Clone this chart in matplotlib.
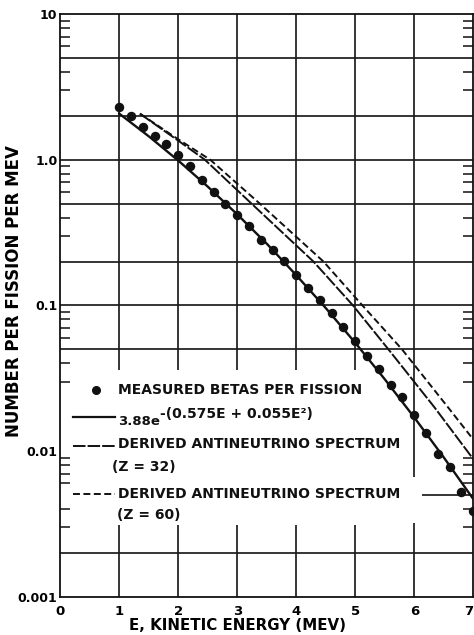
import matplotlib
matplotlib.use('Agg')
import matplotlib.pyplot as plt
from matplotlib.ticker import LogLocator, NullFormatter

# measured betas per fission
beta_e = [1.0, 1.2, 1.4, 1.6, 1.8, 2.0, 2.2, 2.4, 2.6, 2.8, 3.0, 3.2, 3.4, 3.6,
          3.8, 4.0, 4.2, 4.4, 4.6, 4.8, 5.0, 5.2, 5.4, 5.6, 5.8, 6.0, 6.2, 6.4,
          6.6, 6.8, 7.0]
beta_n = [2.31, 2.0, 1.69, 1.45, 1.28, 1.07, 0.90, 0.72, 0.60, 0.50, 0.417,
          0.349, 0.283, 0.240, 0.202, 0.161, 0.132, 0.109, 0.0887, 0.0708,
          0.0565, 0.0447, 0.0366, 0.0286, 0.0236, 0.0178, 0.0134, 0.0096,
          0.0078, 0.00525, 0.0039]

# solid fit curve
fit_e = [1.0, 1.5, 2.0, 2.5, 3.0, 3.5, 4.0, 4.5, 5.0, 5.5, 6.0, 6.5, 7.0]
fit_n = [2.07, 1.447, 0.986, 0.653, 0.421, 0.265, 0.161, 0.0958, 0.0553,
         0.0311, 0.0170, 0.00904, 0.00468]

# derived antineutrino spectra
z32_e = [1.35, 2.0, 2.45, 3.24, 4.29, 4.96, 5.56, 6.34, 7.0]
z32_n = [2.07, 1.35, 1.0, 0.5, 0.2, 0.1, 0.05, 0.02, 0.0088]
z60_e = [1.35, 2.0, 2.54, 3.38, 4.46, 5.12, 5.79, 6.57, 7.0]
z60_n = [2.07, 1.38, 1.0, 0.5, 0.2, 0.1, 0.05, 0.02, 0.012]

x_ticks = [0, 1, 2, 3, 4, 5, 6, 7]
y_ticks = [0.001, 0.01, 0.1, 1, 10]
y_tick_labels = ['0.001', '0.01', '0.1', '1.0', '10']

LONG_DASH = (0, (9, 1.5))
SHORT_DASH = (0, (5, 2.5))
INK = '#111111'


def draw_grid(ax):
    gc = '#1c1c1c'
    lw = 1.25
    ax.hlines([5, 2, 1, 0.5, 0.2, 0.1, 0.05, 0.002], 0, 7, color=gc, lw=lw, zorder=1)
    ax.hlines([0.005], 6.13, 7, color=gc, lw=lw, zorder=1)
    # legend area is left clear of grid lines
    ax.vlines([1, 2, 3, 4, 5], 0.036, 10, color=gc, lw=lw, zorder=1)
    ax.vlines([1, 2, 3, 4, 5], 0.001, 0.0031, color=gc, lw=lw, zorder=1)
    ax.vlines([6], 0.0066, 10, color=gc, lw=lw, zorder=1)
    ax.vlines([6], 0.001, 0.0032, color=gc, lw=lw, zorder=1)


def draw_key(ax):
    fs = 10
    kw = dict(transform=ax.transAxes, fontsize=fs, fontweight='bold',
              va='center', ha='left', color=INK)
    tx = 0.14
    ax.plot([0.086], [0.355], 'o', color=INK, ms=5.5, transform=ax.transAxes)
    ax.text(tx, 0.355, 'MEASURED BETAS PER FISSION', **kw)

    ax.plot([0.03, 0.132], [0.308, 0.308], color=INK, lw=1.6, transform=ax.transAxes)
    base = ax.text(tx, 0.300, '3.88e', **dict(kw, fontsize=fs - 0.5))
    ax.annotate('-(0.575E + 0.055E\u00b2)', xy=(1, 0.55), xycoords=base,
                xytext=(0, 0), textcoords='offset points', fontsize=fs,
                fontweight='bold', va='bottom', ha='left', color=INK)

    ax.plot([0.03, 0.132], [0.258, 0.258], color=INK, lw=1.4,
            linestyle=LONG_DASH, transform=ax.transAxes)
    ax.text(tx, 0.262, 'DERIVED ANTINEUTRINO SPECTRUM', **kw)
    ax.text(0.124, 0.223, '(Z = 32)', **kw)

    ax.plot([0.03, 0.132], [0.176, 0.176], color=INK, lw=1.4,
            linestyle=SHORT_DASH, transform=ax.transAxes)
    ax.text(tx, 0.176, 'DERIVED ANTINEUTRINO SPECTRUM', **kw)
    ax.text(0.137, 0.140, '(Z = 60)', **kw)


if __name__ == '__main__':
    plt.rcParams['lines.scale_dashes'] = False
    fig = plt.figure(figsize=(4.74, 6.35), dpi=100)
    ax = fig.add_axes([0.1272, 0.0603, 0.8713, 0.9176])
    ax.set_yscale('log')
    ax.set_xlim(0, 7)
    ax.set_ylim(0.001, 10)

    draw_grid(ax)

    ax.plot(fit_e, fit_n, color=INK, lw=1.7, zorder=3)
    ax.plot(z32_e, z32_n, color=INK, lw=1.4, linestyle=LONG_DASH, zorder=3)
    ax.plot(z60_e, z60_n, color=INK, lw=1.4, linestyle=SHORT_DASH, zorder=3)
    ax.plot(beta_e, beta_n, 'o', color=INK, ms=5.8, zorder=4)

    draw_key(ax)

    ax.set_xticks(x_ticks)
    labels = ax.set_xticklabels([str(v) for v in x_ticks], fontsize=9.5, fontweight='bold')
    labels[-1].set_ha('right')
    ax.set_yticks(y_ticks)
    ax.set_yticklabels(y_tick_labels, fontsize=9, fontweight='bold')
    ax.yaxis.set_minor_locator(LogLocator(base=10, subs=[3, 4, 6, 7, 8, 9]))
    ax.yaxis.set_minor_formatter(NullFormatter())
    ax.tick_params(axis='x', length=0, pad=6)
    ax.tick_params(axis='y', which='major', length=0, pad=2)
    ax.tick_params(axis='y', which='minor', direction='in', left=True,
                   right=True, length=7.5, width=1.1, color=INK)

    for sp in ax.spines.values():
        sp.set_linewidth(1.3)
        sp.set_color(INK)

    ax.set_xlabel('E, KINETIC ENERGY (MEV)', fontsize=10.8, fontweight='bold', va='top')
    ax.xaxis.set_label_coords(0.429, -0.036)
    ax.set_ylabel('NUMBER PER FISSION PER MEV', fontsize=12, fontweight='bold', va='center')
    ax.yaxis.set_label_coords(-0.112, 0.525)

    fig.savefig('out.png', dpi=100)
